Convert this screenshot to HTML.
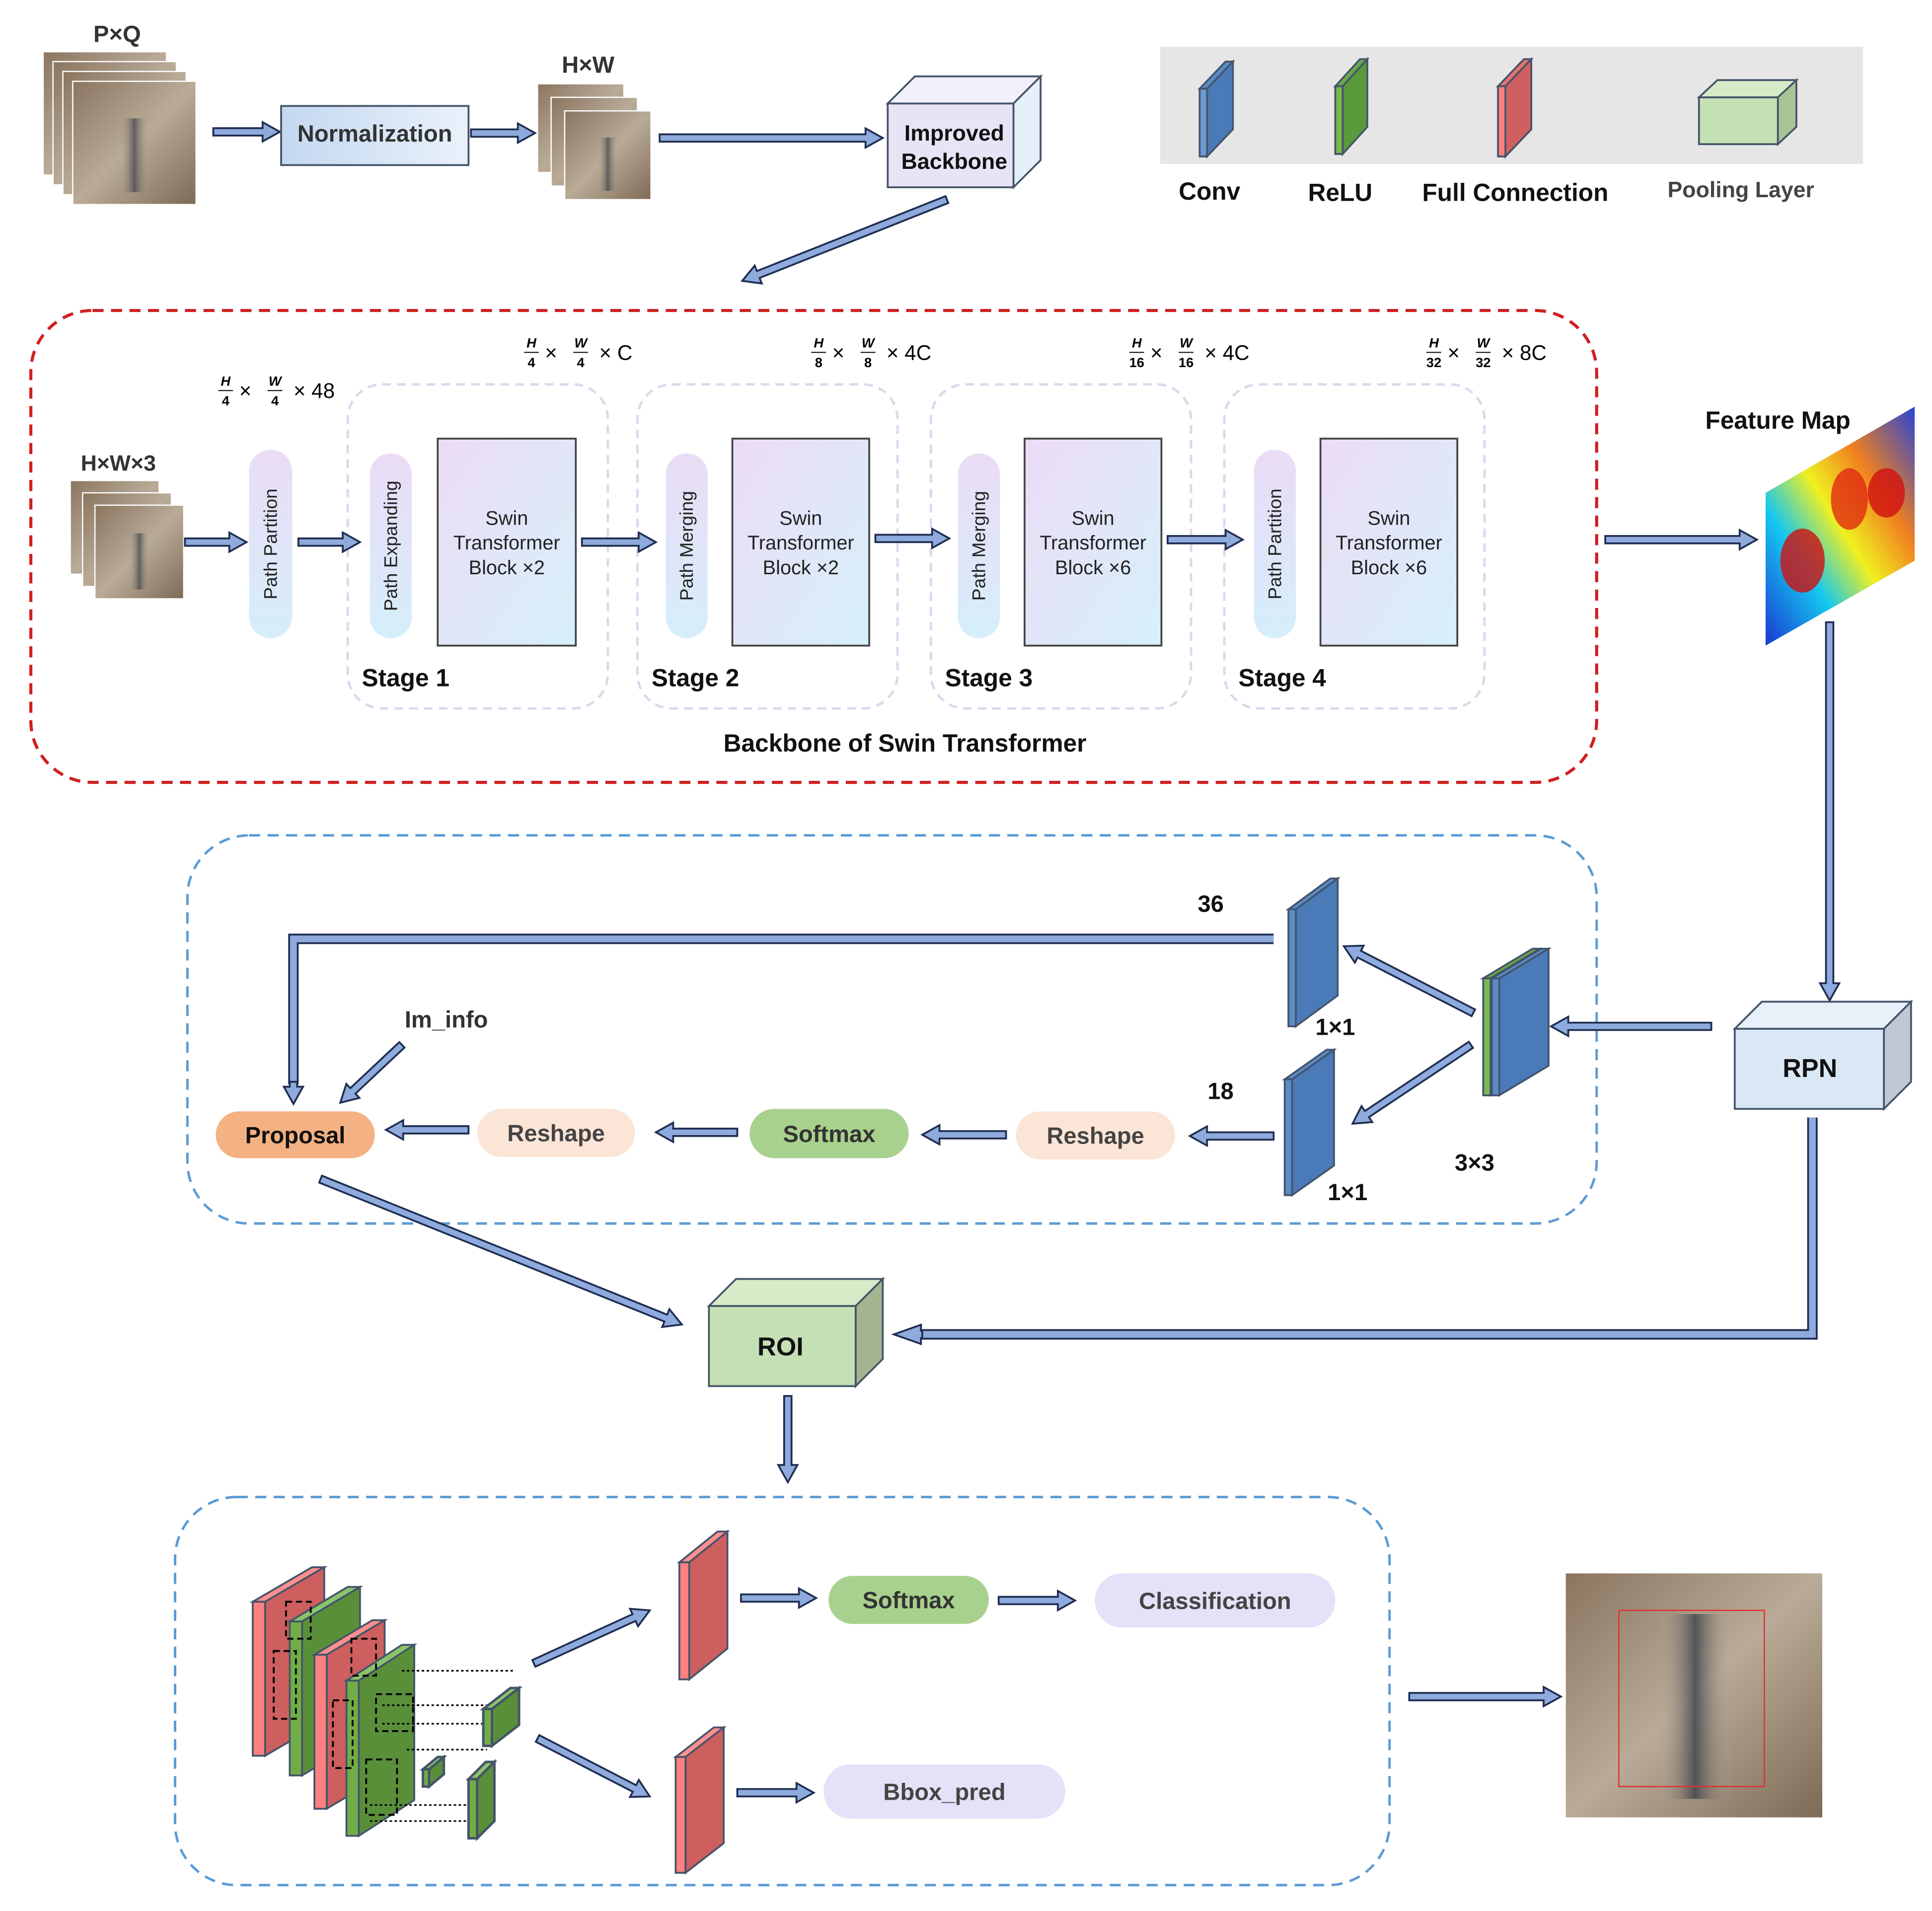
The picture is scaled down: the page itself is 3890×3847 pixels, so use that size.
<!DOCTYPE html>
<html><head><meta charset="utf-8"><style>
html,body{margin:0;padding:0;background:#fff}
svg{display:block}
text{font-family:"Liberation Sans",sans-serif}
</style></head><body>
<svg id="s" xmlns="http://www.w3.org/2000/svg" width="3890" height="3847" viewBox="0 0 1567 1551" preserveAspectRatio="none">
<defs>
<linearGradient id="crab" x1="0" y1="0" x2="1" y2="1"><stop offset="0" stop-color="#8a7560"/><stop offset="0.5" stop-color="#b9ab97"/><stop offset="1" stop-color="#7d6a56"/></linearGradient>
<linearGradient id="stripe" x1="0" y1="0" x2="1" y2="0"><stop offset="0" stop-color="#b9ab97" stop-opacity="0"/><stop offset="0.5" stop-color="#3c3f4a"/><stop offset="1" stop-color="#b9ab97" stop-opacity="0"/></linearGradient>
<linearGradient id="norm" x1="0" y1="0" x2="1" y2="0"><stop offset="0" stop-color="#c3d8f0"/><stop offset="1" stop-color="#eaf1fb"/></linearGradient>
<linearGradient id="swin" x1="0" y1="0" x2="1" y2="1"><stop offset="0" stop-color="#ecdcf5"/><stop offset="1" stop-color="#d6f0fa"/></linearGradient>
<linearGradient id="pill" x1="0" y1="0" x2="0" y2="1"><stop offset="0" stop-color="#eadcf5"/><stop offset="1" stop-color="#d5eefa"/></linearGradient>
<linearGradient id="heat" x1="0" y1="1" x2="1" y2="0"><stop offset="0" stop-color="#1a2fd0"/><stop offset="0.3" stop-color="#14c8f0"/><stop offset="0.5" stop-color="#f0f020"/><stop offset="0.7" stop-color="#f08020"/><stop offset="1" stop-color="#1a40e0"/></linearGradient>
<clipPath id="hc"><polygon points="1432,400 1553,330 1553,455 1432,524"/></clipPath>
</defs>
<g id="g"></g>
</svg>
<script>
var o='';
function A(x1,y1,x2,y2,w,h){w=w||6;h=h||14;var dx=x2-x1,dy=y2-y1,L=Math.hypot(dx,dy),ux=dx/L,uy=dy/L,nx=-uy,ny=ux;
var bx=x2-ux*h,by=y2-uy*h,hw=w/2,hh=w*1.3;
var p=[[x1+nx*hw,y1+ny*hw],[bx+nx*hw,by+ny*hw],[bx+nx*hh,by+ny*hh],[x2,y2],[bx-nx*hh,by-ny*hh],[bx-nx*hw,by-ny*hw],[x1-nx*hw,y1-ny*hw]];
o+='<polygon points="'+p.map(function(q){return q[0].toFixed(1)+','+q[1].toFixed(1)}).join(' ')+'" fill="#8faadc" stroke="#1f2d50" stroke-width="1.5"/>';}
function PL(pts){o+='<polyline points="'+pts+'" fill="none" stroke="#1f2d50" stroke-width="8.5" stroke-linejoin="miter"/><polyline points="'+pts+'" fill="none" stroke="#8faadc" stroke-width="5.5" stroke-linejoin="miter"/>';}
function B(x,y,w,h,dx,dy,f,t,s,sw){sw=sw||1.5;var st='stroke="#44546a" stroke-width="'+sw+'"';
o+='<polygon points="'+x+','+(y+dy)+' '+(x+dx)+','+y+' '+(x+w+dx)+','+y+' '+(x+w)+','+(y+dy)+'" fill="'+t+'" '+st+'/>';
o+='<polygon points="'+(x+w)+','+(y+dy)+' '+(x+w+dx)+','+y+' '+(x+w+dx)+','+(y+h)+' '+(x+w)+','+(y+h+dy)+'" fill="'+s+'" '+st+'/>';
o+='<rect x="'+x+'" y="'+(y+dy)+'" width="'+w+'" height="'+h+'" fill="'+f+'" '+st+'/>';}
function T(x,y,s,sz,c,wt,anch){o+='<text x="'+x+'" y="'+y+'" font-size="'+sz+'" fill="'+(c||'#111')+'" font-weight="'+(wt||'bold')+'" text-anchor="'+(anch||'middle')+'">'+s+'</text>';}
function crab(x,y,w,h,n,d){for(var i=0;i<n;i++){var xx=x+i*d,yy=y+i*d;o+='<rect x="'+xx+'" y="'+yy+'" width="'+w+'" height="'+h+'" fill="url(#crab)" stroke="#fff" stroke-width="1"/><rect x="'+(xx+w*0.38)+'" y="'+(yy+h*0.3)+'" width="'+(w*0.24)+'" height="'+(h*0.6)+'" fill="url(#stripe)" opacity="0.7"/>';}}
function pill(x,y,w,h,f,txt,sz,c){o+='<rect x="'+x+'" y="'+y+'" width="'+w+'" height="'+h+'" rx="'+h/2+'" fill="'+f+'"/>';T(x+w/2,y+h/2+sz*0.36,txt,sz,c||'#333');}
function vpill(x,y,w,h,txt){o+='<rect x="'+x+'" y="'+y+'" width="'+w+'" height="'+h+'" rx="'+w/2+'" fill="url(#pill)"/>';var cx=x+w/2+5,cy=y+h/2;o+='<text transform="translate('+cx+','+cy+') rotate(-90)" font-size="15" fill="#222" text-anchor="middle">'+txt+'</text>';}
function swin(x,y,w,h,n){o+='<rect x="'+x+'" y="'+y+'" width="'+w+'" height="'+h+'" fill="url(#swin)" stroke="#444" stroke-width="1.5"/>';var cx=x+w/2;T(cx,y+70,'Swin',16,'#222','normal');T(cx,y+90,'Transformer',16,'#222','normal');T(cx,y+110,'Block ×'+n,16,'#222','normal');}
function fr(x,y,a,b){o+='<text x="'+x+'" y="'+(y-8)+'" font-size="11" font-style="italic" font-weight="bold" font-family="Liberation Serif" text-anchor="middle">'+a+'</text><line x1="'+(x-6)+'" y1="'+(y-4)+'" x2="'+(x+6)+'" y2="'+(y-4)+'" stroke="#000" stroke-width="0.8"/><text x="'+x+'" y="'+(y+8)+'" font-size="11" font-weight="bold" font-family="Liberation Serif" text-anchor="middle">'+b+'</text>';}
function dim(x,y,d,tail){fr(x,y,'H',d);o+='<text x="'+(x+11)+'" y="'+(y+2)+'" font-size="17" font-family="Liberation Serif">×</text>';fr(x+40,y,'W',d);o+='<text x="'+(x+55)+'" y="'+(y+2)+'" font-size="17" font-family="Liberation Serif">× '+tail+'</text>';}

crab(35,42,100,100,4,8);T(95,34,'P×Q',19,'#333');
A(173,107,227,107);
o+='<rect x="228" y="86" width="152" height="48" fill="url(#norm)" stroke="#44546a" stroke-width="1.5"/>';T(304,115,'Normalization',19,'#333');
A(382,108,434,108);
crab(436,68,70,72,3,11);T(477,59,'H×W',19,'#333');
A(535,112,716,112);
B(720,62,102,68,22,22,'#e8e4f6','#f2f0fa','#e6eef8');T(774,114,'Improved',18,'#111');T(774,137,'Backbone',18,'#111');
A(768,162,602,228);
o+='<rect x="941" y="38" width="570" height="95" fill="#e6e6e6"/>';
B(973,50,6,55,21,22,'#6b9bd0','#5b8cc8','#4a7ab8');T(981,162,'Conv',20);
B(1083,48,6,55,20,22,'#7ab852','#6aa84a','#5a9a3a');T(1087,163,'ReLU',20);
B(1215,48,6,57,21,22,'#ff8080','#e87070','#d06060');T(1229,163,'Full Connection',20);
B(1378,65,64,38,15,14,'#c5e0b4','#d6ebc8','#a9c495');T(1412,160,'Pooling Layer',18,'#444');
o+='<rect x="25" y="252" width="1270" height="383" rx="50" fill="none" stroke="#d02020" stroke-width="2.5" stroke-dasharray="9,6"/>';
[[282,'Stage 1'],[517,'Stage 2'],[755,'Stage 3'],[993,'Stage 4']].forEach(function(s){o+='<rect x="'+s[0]+'" y="312" width="211" height="263" rx="28" fill="none" stroke="#dcd8ec" stroke-width="2" stroke-dasharray="7,5"/>';T(s[0]+47,557,s[1],20,'#111','bold');});
crab(57,390,72,76,3,10);T(96,382,'H×W×3',18,'#333');
vpill(202,365,35,153,'Path Partition');vpill(300,368,34,150,'Path Expanding');vpill(540,368,34,150,'Path Merging');vpill(777,368,34,150,'Path Merging');vpill(1017,365,34,153,'Path Partition');
swin(355,356,112,168,2);swin(594,356,111,168,2);swin(831,356,111,168,6);swin(1071,356,111,168,6);
A(150,440,200,440);A(242,440,292,440);A(472,440,532,440);A(710,437,770,437);A(947,438,1008,438);
dim(183,321,'4','48');dim(431,290,'4','C');dim(664,290,'8','4C');dim(922,290,'16','4C');dim(1163,290,'32','8C');
T(734,610,'Backbone of Swin Transformer',20,'#111');
o+='<g clip-path="url(#hc)"><rect x="1430" y="328" width="126" height="200" fill="url(#heat)"/><ellipse cx="1462" cy="455" rx="18" ry="26" fill="#d01010" opacity="0.8"/><ellipse cx="1500" cy="405" rx="15" ry="25" fill="#e02010" opacity="0.75"/><ellipse cx="1530" cy="400" rx="15" ry="20" fill="#d01010" opacity="0.8"/></g>';
T(1442,348,'Feature Map',20,'#111');
A(1302,438,1425,438);A(1484,505,1484,812);
o+='<rect x="152" y="678" width="1143" height="315" rx="50" fill="none" stroke="#5b9bd5" stroke-width="2" stroke-dasharray="9,6"/>';
B(1407,813,121,65,22,22,'#dae8f5','#e8f0f9','#c0c8d6');T(1468,874,'RPN',21);
A(1388,833,1258,833);
B(1203,770,6,95,40,24,'#7ab852','#6aa84a','#5a9a3a');B(1210,770,6,95,40,24,'#5b8cc8','#5b8cc8','#4a7ab8');
B(1045,713,6,95,34,25,'#5b8cc8','#5b8cc8','#4a7ab8');B(1042,852,6,94,34,24,'#5b8cc8','#5b8cc8','#4a7ab8');
T(982,740,'36',19);T(1083,840,'1×1',19);T(990,892,'18',19);T(1093,974,'1×1',19);T(1196,950,'3×3',19);
A(1195,822,1090,768);A(1193,848,1097,912);
PL('1033,762 238,762 238,880');A(238,878,238,896);
T(362,834,'Im_info',19,'#333');A(326,848,276,895);
pill(175,902,129,38,'#f4b183','Proposal',19,'#111');pill(387,900,128,39,'#fbe5d6','Reshape',19,'#444');pill(608,900,129,40,'#a9d18e','Softmax',19,'#333');pill(824,902,129,39,'#fbe5d6','Reshape',19,'#444');
A(1033,922,965,922);A(816,921,748,921);A(598,919,532,919);A(380,917,313,917);
A(260,957,553,1075);
B(575,1038,119,65,22,22,'#c5e0b4','#d6ebc8','#a3b58e');T(633,1100,'ROI',21);
PL('1470,907 1470,1083 745,1083');A(748,1083,725,1083,6,22);
A(639,1133,639,1203);
o+='<rect x="142" y="1215" width="985" height="315" rx="50" fill="none" stroke="#5b9bd5" stroke-width="2" stroke-dasharray="9,6"/>';
B(205,1272,10,125,48,28,'#ff8080','#ff9090','#cd5f5f');
B(235,1288,10,125,47,28,'#70ad47','#8bc46a','#5a8f3a');
B(255,1315,10,125,47,28,'#ff8080','#ff9090','#cd5f5f');
B(281,1335,10,126,45,29,'#70ad47','#8bc46a','#5a8f3a');
o+='<g fill="none" stroke="#000" stroke-width="1.5" stroke-dasharray="5,3"><rect x="232" y="1300" width="20" height="30"/><rect x="222" y="1340" width="18" height="55"/><rect x="285" y="1330" width="20" height="30"/><rect x="270" y="1380" width="16" height="55"/><rect x="305" y="1375" width="30" height="30"/><rect x="297" y="1428" width="25" height="45"/></g>';
o+='<g stroke="#000" stroke-width="1.3" stroke-dasharray="2,2"><line x1="326" y1="1356" x2="416" y2="1356"/><line x1="310" y1="1384" x2="395" y2="1384"/><line x1="310" y1="1399" x2="395" y2="1399"/><line x1="330" y1="1420" x2="395" y2="1420"/><line x1="300" y1="1465" x2="382" y2="1465"/><line x1="300" y1="1478" x2="382" y2="1478"/></g>';
B(392,1370,7,30,22,17,'#70ad47','#8bc46a','#5a8f3a',2);B(343,1426,5,14,12,10,'#70ad47','#8bc46a','#5a8f3a',2);B(380,1430,7,48,14,14,'#70ad47','#8bc46a','#5a8f3a',2);
A(433,1350,527,1307);A(436,1411,527,1458);
B(551,1243,8,95,31,25,'#ff8080','#ff9090','#cd5f5f');B(548,1402,8,94,31,24,'#ff8080','#ff9090','#cd5f5f');
A(601,1297,662,1297);A(810,1299,872,1299);A(598,1455,660,1455);
pill(672,1279,130,39,'#a9d18e','Softmax',19,'#333');pill(888,1277,195,44,'#e6e0f8','Classification',19,'#444');pill(668,1432,196,44,'#e6e0f8','Bbox_pred',19,'#444');
A(1143,1377,1266,1377);
o+='<rect x="1270" y="1277" width="208" height="198" fill="url(#crab)"/><rect x="1345" y="1310" width="60" height="150" fill="url(#stripe)" opacity="0.8"/><rect x="1313" y="1307" width="118" height="143" fill="none" stroke="#e03030" stroke-width="1"/>';
document.getElementById('g').innerHTML=o;
</script>
</body></html>
